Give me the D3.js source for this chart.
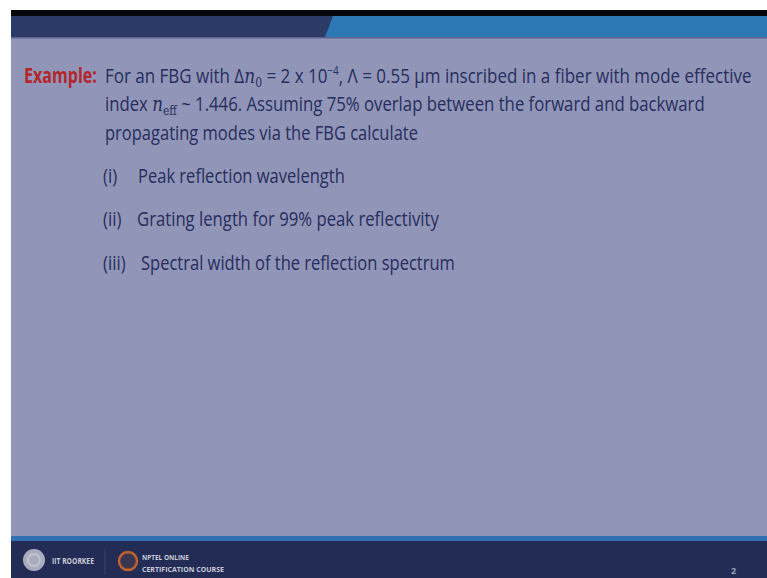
<!DOCTYPE html>
<html>
<head>
<meta charset="utf-8">
<script src="https://cdn.jsdelivr.net/npm/d3@7"></script>
<style>
  body { margin: 0; background: #fff; }
  svg { display: block; }
</style>
</head>
<body>
<div id="slide"></div>
<script>
// slide content
var label = "Example:";
// each line = list of [text, kind]; kind: n normal, i italic, sub, sup
var paraLines = [
  [["For an FBG with \u0394", "n"], ["n", "i"], ["0", "sub"], [" = 2 x 10", "n"], ["\u22124", "sup"], [", \u039b = 0.55 \u03bcm inscribed in a fiber with mode effective", "n"]],
  [["index ", "n"], ["n", "i"], ["eff", "sub"], [" ~ 1.446. Assuming 75% overlap between the forward and backward", "n"]],
  [["propagating modes via the FBG calculate", "n"]]
];
var lineEnds = [752, 705, 418];
var itemNums = ["(i)", "(ii)", "(iii)"];
var itemTexts = ["Peak reflection wavelength", "Grating length for 99% peak reflectivity", "Spectral width of the reflection spectrum"];
var itemEnds = [345, 439, 455];
var footerTexts = ["IIT ROORKEE", "NPTEL ONLINE", "CERTIFICATION COURSE"];
var pageNo = "2";

var W = 767, H = 578;
var font = "'Open Sans', 'Noto Sans', sans-serif";
var ink = "#272d5c";
var fs = 20.5;

var svg = d3.select("#slide").append("svg")
    .attr("width", W)
    .attr("height", H);

// white border & slide background
svg.append("rect").attr("width", W).attr("height", H).attr("fill", "#fff");
svg.append("rect").attr("x", 11).attr("y", 10).attr("width", W - 11).attr("height", H - 10)
    .attr("fill", "#9196b8");

// top header bands
svg.append("rect").attr("x", 11).attr("y", 10).attr("width", W - 11).attr("height", 7).attr("fill", "#05070c");
svg.append("rect").attr("x", 11).attr("y", 16).attr("width", W - 11).attr("height", 21).attr("fill", "#2b3a66");
svg.append("path")
    .attr("d", "M333,16 L" + W + ",16 L" + W + ",37 L325,37 Z")
    .attr("fill", "#2f78b6");
svg.append("rect").attr("x", 11).attr("y", 37).attr("width", W - 11).attr("height", 1.5).attr("fill", "#5d6390");

// footer
svg.append("rect").attr("x", 11).attr("y", 536).attr("width", W - 11).attr("height", 6).attr("fill", "#2f6fb2");
svg.append("rect").attr("x", 11).attr("y", 541).attr("width", W - 11).attr("height", H - 541).attr("fill", "#222c55");

// body text
var body = svg.append("g").attr("font-family", font).attr("fill", ink);

svg.append("text")
    .attr("x", 24).attr("y", 83)
    .attr("font-family", font)
    .attr("font-size", fs)
    .attr("font-weight", 700)
    .attr("fill", "#b3262c")
    .text(label)
    .call(fitWidth, 24, 97);

var x0 = 105;
var baselines = [83, 111.5, 140];
paraLines.forEach(function(parts, i) {
  var t = body.append("text")
      .attr("x", x0).attr("y", baselines[i])
      .attr("font-size", fs);
  parts.forEach(function(p) {
    var s = t.append("tspan").text(p[0]);
    if (p[1] === "i") s.attr("font-family", "'DejaVu Serif', serif").attr("font-style", "italic");
    if (p[1] === "sub") s.attr("font-size", 13).attr("dy", 4).attr("font-family", "'DejaVu Serif', serif");
    if (p[1] === "sup") s.attr("font-size", 12).attr("dy", -8);
    // return to baseline after shifted piece
    if (p[1] === "n" && s.node().previousSibling) {
      var prev = d3.select(s.node().previousSibling);
      var dy = +prev.attr("dy") || 0;
      if (dy) s.attr("dy", -dy);
    }
  });
  t.call(fitWidth, x0, lineEnds[i]);
});

var itemY = [183, 226.5, 270];
itemNums.forEach(function(n, i) {
  body.append("text")
      .attr("x", 103).attr("y", itemY[i])
      .attr("font-size", fs)
      .text(n)
      .call(fitWidth, 103, 103 + 0.82 * measure(n));
  var xs = i === 0 ? 138 : (i === 1 ? 137 : 141);
  body.append("text")
      .attr("x", xs).attr("y", itemY[i])
      .attr("font-size", fs)
      .text(itemTexts[i])
      .call(fitWidth, xs, itemEnds[i]);
});

// footer logos
svg.append("circle").attr("cx", 34).attr("cy", 560).attr("r", 11).attr("fill", "#a9adbf");
svg.append("circle").attr("cx", 34).attr("cy", 560).attr("r", 6).attr("fill", "none")
    .attr("stroke", "#c7cad6").attr("stroke-width", 1.5);
svg.append("text").attr("x", 52).attr("y", 564)
    .attr("font-family", font).attr("font-size", 9).attr("font-weight", 700)
    .attr("fill", "#c9cbd8").text(footerTexts[0]).call(fitWidth, 52, 94);
svg.append("line").attr("x1", 105).attr("x2", 105).attr("y1", 549).attr("y2", 575)
    .attr("stroke", "#3b4670").attr("stroke-width", 1);
svg.append("circle").attr("cx", 128).attr("cy", 561).attr("r", 9).attr("fill", "#3a3550")
    .attr("stroke", "#c4622c").attr("stroke-width", 2.5);
svg.append("text").attr("x", 142).attr("y", 560)
    .attr("font-family", font).attr("font-size", 7.5).attr("font-weight", 700)
    .attr("fill", "#c9cbd8").text(footerTexts[1]).call(fitWidth, 142, 189);
svg.append("text").attr("x", 142).attr("y", 572)
    .attr("font-family", font).attr("font-size", 7.5).attr("font-weight", 700)
    .attr("fill", "#c9cbd8").text(footerTexts[2]).call(fitWidth, 142, 224);
svg.append("text").attr("x", 731).attr("y", 574)
    .attr("font-family", font).attr("font-size", 9).attr("font-weight", 700)
    .attr("fill", "#9aa0bb").text(pageNo);

// natural width of a string at body size
function measure(str) {
  var t = svg.append("text").attr("font-family", font).attr("font-size", fs).text(str);
  var w = t.node().getComputedTextLength();
  t.remove();
  return w;
}

// squeeze a text element horizontally so it spans x0..x1
function fitWidth(sel, xa, xb) {
  var w = sel.node().getComputedTextLength();
  var k = (xb - xa) / w;
  sel.attr("transform", "translate(" + xa + ",0) scale(" + k + ",1) translate(" + (-xa) + ",0)");
}
</script>
</body>
</html>
